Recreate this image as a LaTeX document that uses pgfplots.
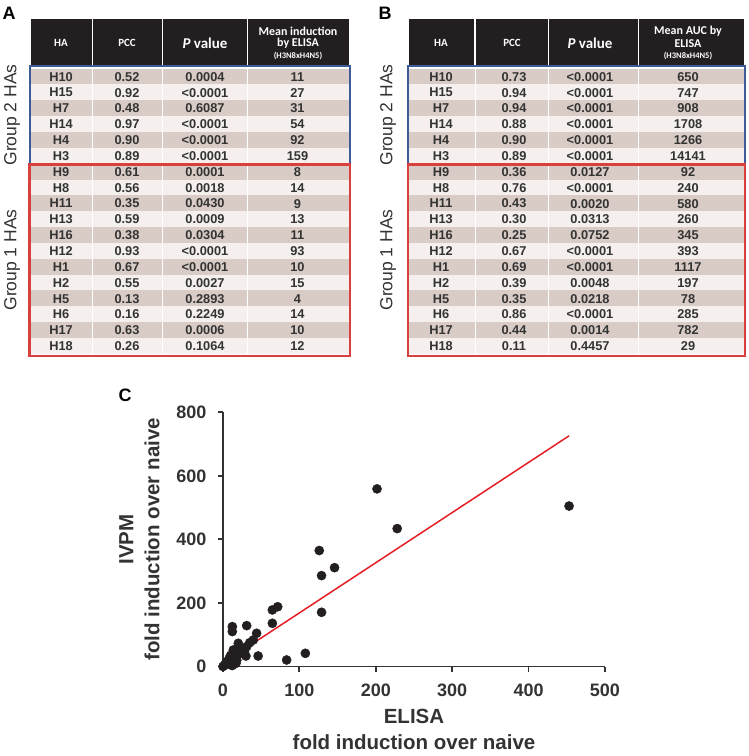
\documentclass[border=0pt]{standalone}
\usepackage{pgfplots}
\pgfplotsset{compat=1.18}
\usepackage{fontspec}
\setmainfont{Liberation Sans}
\newfontfamily\carlito{Carlito}
\definecolor{hdr}{HTML}{231F20}
\definecolor{rowdark}{HTML}{D9CCC6}
\definecolor{rowlight}{HTML}{F5F0ED}
\definecolor{bluebox}{HTML}{3E5C98}
\definecolor{redbox}{HTML}{D8403E}
\definecolor{txt}{HTML}{333333}
\definecolor{dot}{HTML}{231F20}
\definecolor{fit}{HTML}{E31E24}

\newcommand\fs[1]{\fontsize{#1}{#1}\selectfont}

% #1 left, #2 right, #3-#5 separators, #6-#9 column centres
\newcommand\drawtable[9]{%
  \fill[hdr] (#1,19) rectangle (#2,66);
  \foreach \n/\a/\b/\c [count=\i from 0] in \tabdata {
    \pgfmathsetmacro\yt{68.6+15.85*\i}
    \pgfmathsetmacro\yb{\yt+15.85}
    \pgfmathsetmacro\yc{\yt+8.2}
    \ifodd\i
      \fill[rowlight] (#1,\yt) rectangle (#2,\yb);
    \else
      \fill[rowdark] (#1,\yt) rectangle (#2,\yb);
    \fi
    \node[txt,font=\bfseries\fs{12.8}] at (#6,\yc) {\n};
    \node[txt,font=\bfseries\fs{12.8}] at (#7,\yc) {\a};
    \node[txt,font=\bfseries\fs{12.8}] at (#8,\yc) {\b};
    \node[txt,font=\bfseries\fs{12.8}] at (#9,\yc) {\c};
  }
  \foreach \s in {#3,#4,#5} {
    \draw[white, line width=1.3] (\s,19) -- (\s,66);
    \draw[white, line width=1] (\s,67) -- (\s,355);
  }
  \draw[bluebox, line width=2] (#1-1.5,66.5) rectangle (#2+1.5,164);
  \draw[redbox, line width=2.2] (#1-1.5,164.5) rectangle (#2+1.5,356);
}

\begin{document}
\begin{tikzpicture}[x=1pt,y=1pt]
\path[use as bounding box] (0,0) rectangle (748,756);

\begin{scope}[shift={(0,756)}, yscale=-1]
  % Table A
  \def\tabdata{H10/0.52/0.0004/11, H15/0.92/<0.0001/27, H7/0.48/0.6087/31,
    H14/0.97/<0.0001/54, H4/0.90/<0.0001/92, H3/0.89/<0.0001/159,
    H9/0.61/0.0001/8, H8/0.56/0.0018/14, H11/0.35/0.0430/9,
    H13/0.59/0.0009/13, H16/0.38/0.0304/11, H12/0.93/<0.0001/93,
    H1/0.67/<0.0001/10, H2/0.55/0.0027/15, H5/0.13/0.2893/4,
    H6/0.16/0.2249/14, H17/0.63/0.0006/10, H18/0.26/0.1064/12}
  \drawtable{31}{348.5}{92.3}{162.3}{247.7}{61}{127}{205}{297.5}
  \node[white,font=\carlito\bfseries\fs{11}] at (61,43) {HA};
  \node[white,font=\carlito\bfseries\fs{11}] at (127,43) {PCC};
  \node[white,font=\carlito\bfseries\fs{15}] at (205,43) {\textit{P} value};
  \node[white,font=\carlito\bfseries\fs{12},inner sep=0] at (298,31) {Mean induction};
  \node[white,font=\carlito\bfseries\fs{12},inner sep=0] at (298,43.5) {by ELISA};
  \node[white,font=\carlito\bfseries\fs{8.5},inner sep=0] at (298,55.5) {(H3N8xH4N5)};

  % Table B
  \def\tabdata{H10/0.73/<0.0001/650, H15/0.94/<0.0001/747, H7/0.94/<0.0001/908,
    H14/0.88/<0.0001/1708, H4/0.90/<0.0001/1266, H3/0.89/<0.0001/14141,
    H9/0.36/0.0127/92, H8/0.76/<0.0001/240, H11/0.43/0.0020/580,
    H13/0.30/0.0313/260, H16/0.25/0.0752/345, H12/0.67/<0.0001/393,
    H1/0.69/<0.0001/1117, H2/0.39/0.0048/197, H5/0.35/0.0218/78,
    H6/0.86/<0.0001/285, H17/0.44/0.0014/782, H18/0.11/0.4457/29}
  \drawtable{409.3}{743.5}{475}{548.3}{638.3}{441}{514}{590}{688}
  \node[white,font=\carlito\bfseries\fs{11}] at (441,43) {HA};
  \node[white,font=\carlito\bfseries\fs{11}] at (512,43) {PCC};
  \node[white,font=\carlito\bfseries\fs{15}] at (590,43) {\textit{P} value};
  \node[white,font=\carlito\bfseries\fs{12},inner sep=0] at (688,31) {Mean AUC by};
  \node[white,font=\carlito\bfseries\fs{12},inner sep=0] at (688,43.5) {ELISA};
  \node[white,font=\carlito\bfseries\fs{8.5},inner sep=0] at (688,55.5) {(H3N8xH4N5)};

  % group labels
  \node[txt,rotate=90,font=\fs{17.5}] at (12,115) {Group 2 HAs};
  \node[txt,rotate=90,font=\fs{17.5}] at (12,260) {Group 1 HAs};
  \node[txt,rotate=90,font=\fs{17.5}] at (388,115) {Group 2 HAs};
  \node[txt,rotate=90,font=\fs{17.5}] at (388,260) {Group 1 HAs};

  % panel labels
  \node[black,font=\bfseries\fs{18}] at (9,13.5) {A};
  \node[black,font=\bfseries\fs{18}] at (385,13.5) {B};
  \node[black,font=\bfseries\fs{18}] at (125,395) {C};
\end{scope}

\begin{axis}[
  at={(223pt,89.5pt)}, anchor=south west,
  scale only axis, width=382pt, height=254.2pt,
  xmin=0, xmax=500, ymin=0, ymax=800,
  axis x line*=bottom, axis y line*=left,
  axis line style={line width=1.8pt, color=txt},
  xtick={0,100,...,500}, ytick={0,200,...,800},
  tick align=outside, major tick length=5pt,
  tick style={line width=1.8pt, color=txt},
  /pgf/number format/assume math mode=true,
  ticklabel style={font=\bfseries\fs{18}, text=txt},
  xticklabel style={yshift=-9pt},
  yticklabel style={xshift=-8pt},
  xlabel={ELISA\\fold induction over naive},
  ylabel={IVPM\\fold induction over naive},
  label style={font=\bfseries\fontsize{20.5}{26}\selectfont, text=txt, align=center},
  xlabel style={yshift=-6pt},
  ylabel style={yshift=10pt},
  clip=false,
]
\addplot[fit, line width=1.5pt] coordinates {(2,14) (453,726)};
\addplot[only marks, mark=*, mark size=4.6pt, mark options={fill=dot, draw=dot}] coordinates {
  (201.6,559) (228,434) (126,365) (129,286) (146,311) (129,170.6)
  (64.6,178) (71.6,188) (64.6,136) (107.8,41.5) (83.3,20.5) (46,33)
  (31,128.6) (12.2,125.5) (12.2,110) (44,104.5) (39.7,83.5) (20,73)
  (31,62.5) (13.5,52) (30,33) (15.7,10) (0,0) (453,505)
  (2,5) (5,15) (8,25) (10,35) (14,45) (18,20) (22,40) (25,55) (28,48)
  (6,8) (12,3) (35,75) (17,10) (20,62)
};
\end{axis}
\end{tikzpicture}
\end{document}
